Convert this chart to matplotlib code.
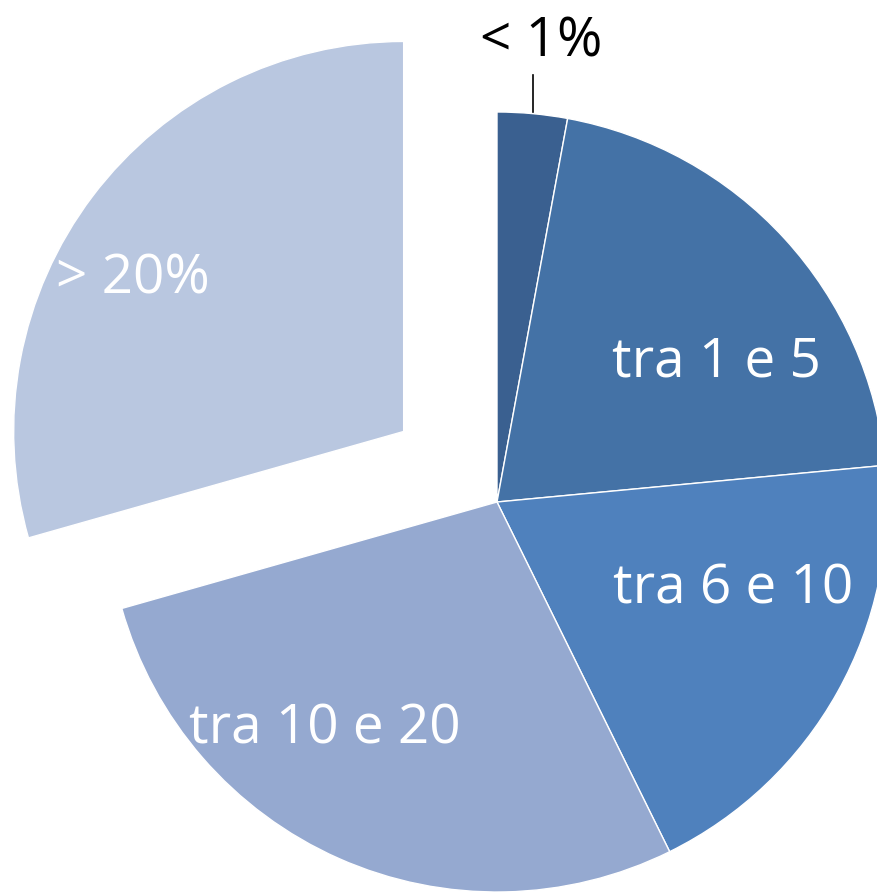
import numpy as np
import matplotlib.pyplot as plt

# Share of cases per class (percent)
categories = ['< 1%', 'tra 1 e 5', 'tra 6 e 10', 'tra 10 e 20', '> 20%']
values = [2.9, 20.6, 19.2, 27.9, 29.4]
colors = ['#3A6090', '#4472A6', '#4F81BD', '#95A9D0', '#B9C7E0']
explode = [0, 0, 0, 0, 0.3]

W, H = 878, 892
cx, cy, R = 497, 502, 390   # pie centre and radius in pixels


def to_data(px, py):
    return (px - cx) / R, (cy - py) / R


fig = plt.figure(figsize=(W / 100, H / 100), dpi=100)
ax = fig.add_axes([0, 0, 1, 1])
ax.pie(values, colors=colors, explode=explode, startangle=90, counterclock=False,
       radius=1, wedgeprops=dict(edgecolor='white', linewidth=1))

ax.set_xlim(-cx / R, (W - cx) / R)
ax.set_ylim(-(H - cy) / R, cy / R)
ax.set_aspect('auto')
ax.axis('off')

font = 'Open Sans'
fs = 39.5

# label positions (pixel centre x, baseline y)
label_pos = {
    '< 1%': (541, 57, 'black'),
    'tra 1 e 5': (716, 377, 'white'),
    'tra 6 e 10': (733, 603, 'white'),
    'tra 10 e 20': (325, 744, 'white'),
    '> 20%': (133, 294, 'white'),
}
for name in categories:
    px, py, col = label_pos[name]
    x, y = to_data(px, py)
    ax.text(x, y, name, ha='center', va='baseline', color=col,
            fontsize=fs, family=font)

# leader line for the smallest slice
x0, y0 = to_data(533, 75)
x1, y1 = to_data(533, 112)
ax.plot([x0, x1], [y0, y1], color='black', linewidth=1.2)

fig.savefig('out.png', dpi=100)
